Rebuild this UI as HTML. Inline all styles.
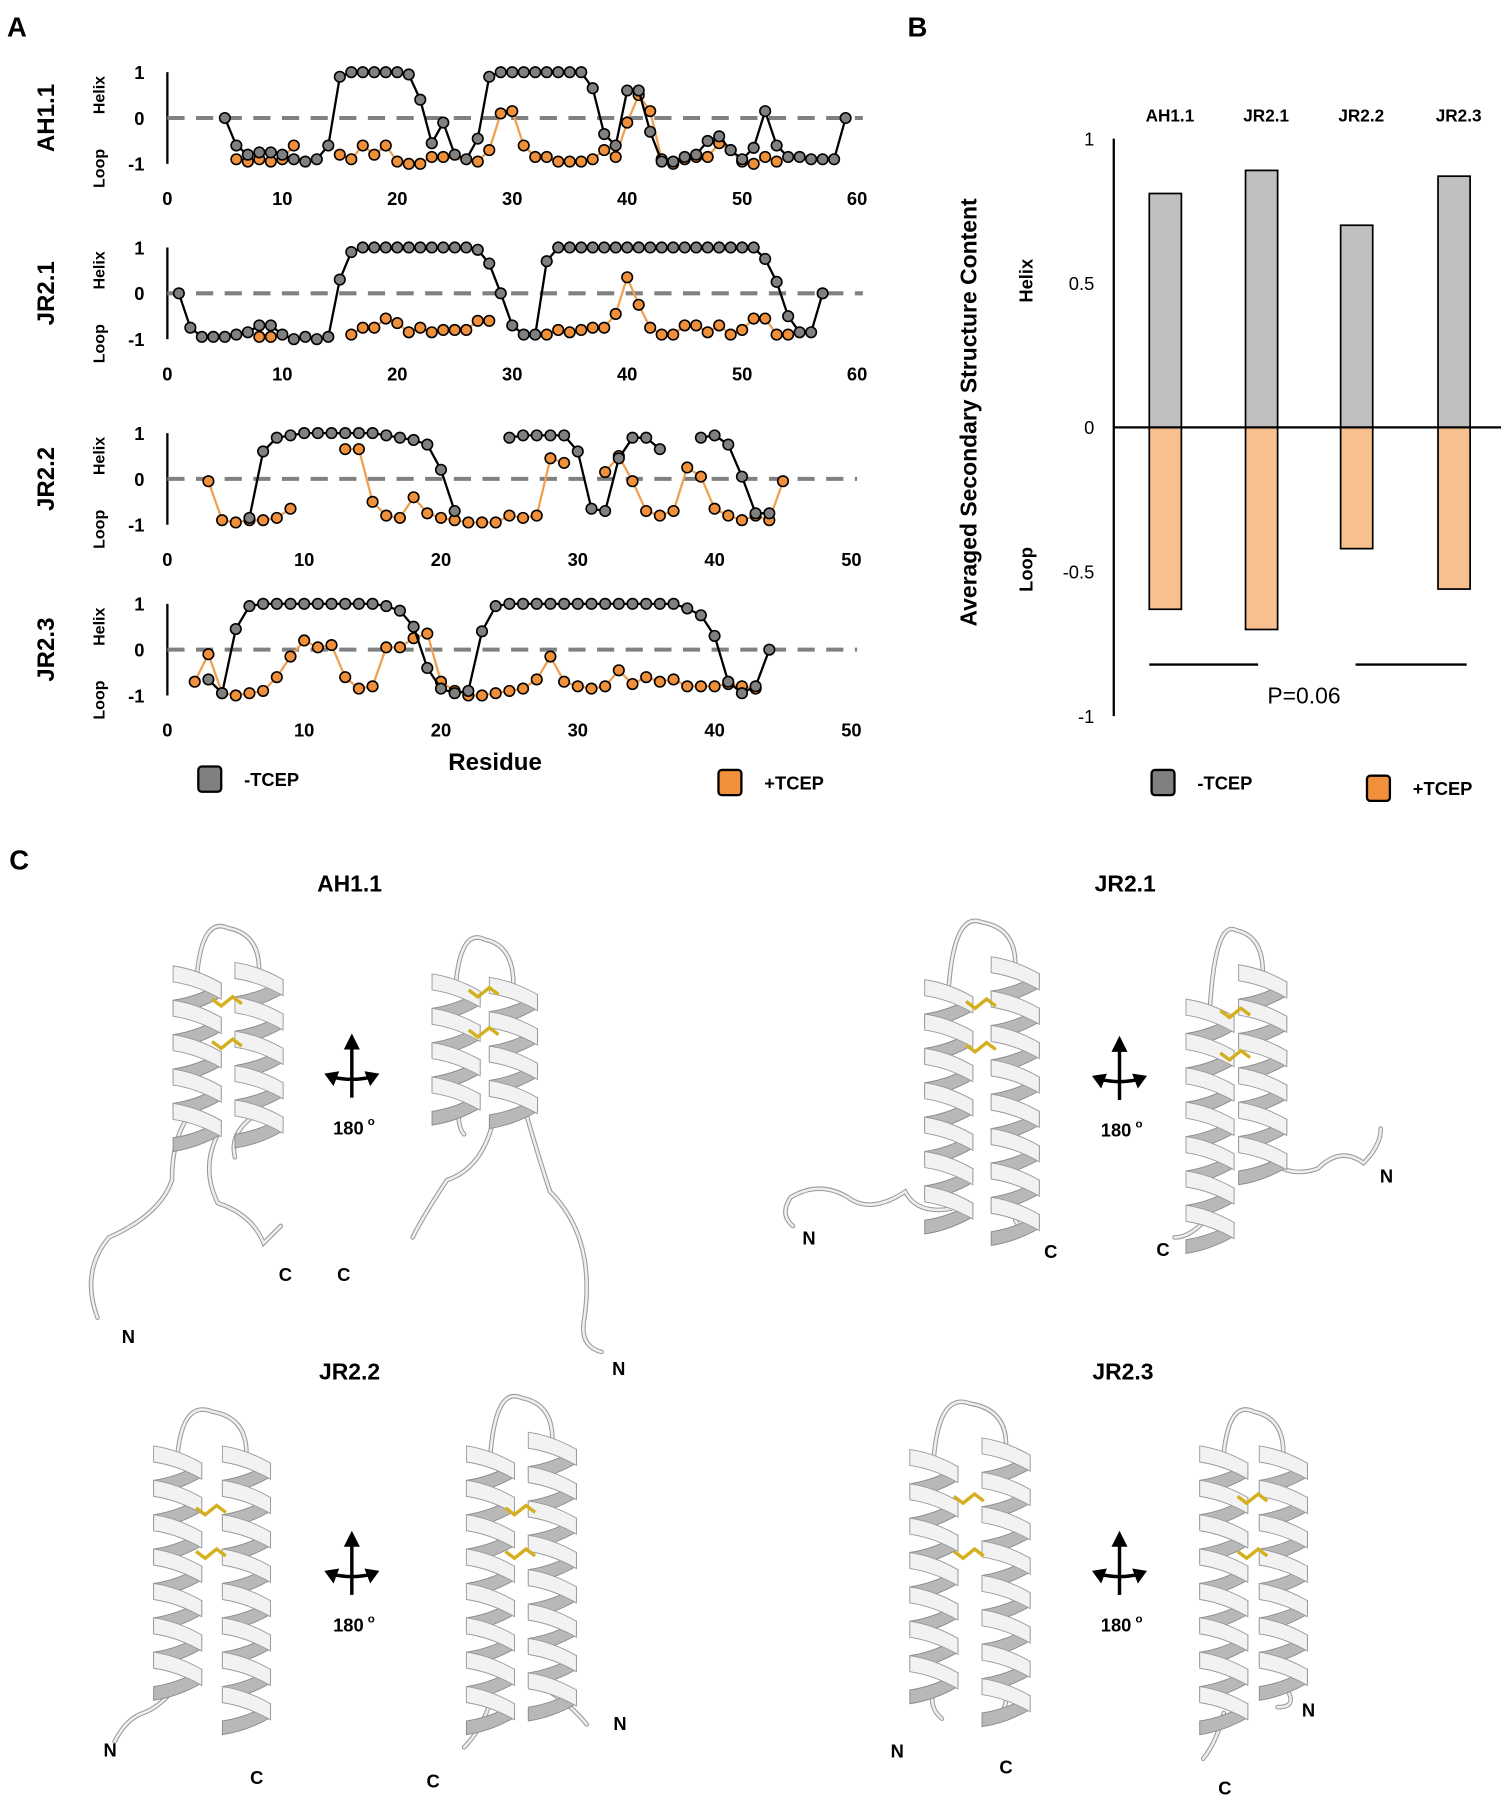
<!DOCTYPE html>
<html><head><meta charset="utf-8">
<style>
html,body{margin:0;padding:0;background:#fff;}
svg{display:block;font-family:"Liberation Sans",sans-serif;}
</style></head>
<body>
<svg id="fig" width="1508" height="1800" viewBox="0 0 1316 1571" xmlns="http://www.w3.org/2000/svg">
<g id="panelA"></g>
<g id="panelB"></g>
<g id="panelC"></g>
</svg>
<script>
// ---------- Panel A data ----------
const ah11Res = [5,6,7,8,9,10,11,12,13,14,15,16,17,18,19,20,21,22,23,24,25,26,27,28,29,30,31,32,33,34,35,36,37,38,39,40,41,42,43,44,45,46,47,48,49,50,51,52,53,54,55,56,57,58,59];
const ah11Minus = [0,-0.6,-0.8,-0.75,-0.75,-0.8,-0.9,-0.95,-0.9,-0.6,0.9,1,1,1,1,1,0.95,0.4,-0.55,-0.1,-0.8,-0.9,-0.45,0.9,1,1,1,1,1,1,1,1,0.65,-0.35,-0.6,0.6,0.6,-0.3,-0.95,-0.95,-0.85,-0.8,-0.5,-0.4,-0.7,-0.9,-0.65,0.15,-0.6,-0.85,-0.85,-0.9,-0.9,-0.9,0];
const ah11PlusRes = [6,7,8,9,10,11,null,15,16,17,18,19,20,21,22,23,24,27,28,29,30,31,32,33,34,35,36,37,38,39,40,41,42,43,44,45,46,47,48,49,50,51,52,53];
const ah11Plus = [-0.9,-0.95,-0.9,-0.95,-0.9,-0.6,null,-0.8,-0.9,-0.6,-0.8,-0.6,-0.95,-1,-1,-0.85,-0.85,-0.95,-0.7,0.1,0.15,-0.6,-0.85,-0.85,-0.95,-0.95,-0.95,-0.9,-0.7,-0.85,-0.1,0.5,0.15,-0.9,-1,-0.9,-0.85,-0.85,-0.55,-0.7,-0.95,-1,-0.85,-0.95];

const jr21Res = [1,2,3,4,5,6,7,8,9,10,11,12,13,14,15,16,17,18,19,20,21,22,23,24,25,26,27,28,29,30,31,32,33,34,35,36,37,38,39,40,41,42,43,44,45,46,47,48,49,50,51,52,53,54,55,56,57];
const jr21Minus = [0,-0.75,-0.95,-0.95,-0.95,-0.9,-0.85,-0.7,-0.7,-0.9,-1,-0.95,-1,-0.95,0.3,0.9,1,1,1,1,1,1,1,1,1,1,0.95,0.65,0,-0.7,-0.9,-0.9,0.7,1,1,1,1,1,1,1,1,1,1,1,1,1,1,1,1,1,1,0.75,0.25,-0.5,-0.85,-0.85,0];
const jr21PlusRes = [8,9,null,16,17,18,19,20,21,22,23,24,25,26,27,28,null,33,34,35,36,37,38,39,40,41,42,43,44,45,46,47,48,49,50,51,52,53,54];
const jr21Plus = [-0.95,-0.95,null,-0.9,-0.75,-0.75,-0.55,-0.65,-0.85,-0.75,-0.85,-0.8,-0.8,-0.8,-0.6,-0.6,null,-0.9,-0.8,-0.85,-0.8,-0.75,-0.75,-0.45,0.35,-0.25,-0.75,-0.9,-0.9,-0.7,-0.7,-0.85,-0.7,-0.9,-0.8,-0.55,-0.55,-0.9,-0.9];

const jr22Res = [6,7,8,9,10,11,12,13,14,15,16,17,18,19,20,21,null,25,26,27,28,29,30,31,32,33,34,35,36,null,39,40,41,42,43,44];
const jr22Minus = [-0.85,0.6,0.9,0.95,1,1,1,1,1,1,0.95,0.9,0.85,0.75,0.2,-0.7,null,0.9,0.95,0.95,0.95,0.95,0.6,-0.65,-0.7,0.45,0.9,0.9,0.65,null,0.9,0.95,0.75,0.05,-0.75,-0.75];
const jr22PlusRes = [3,4,5,6,7,8,9,null,13,14,15,16,17,18,19,20,21,22,23,24,25,26,27,28,29,null,32,33,34,35,36,37,38,39,40,41,42,43,44,45];
const jr22Plus = [-0.05,-0.9,-0.95,-0.9,-0.9,-0.85,-0.65,null,0.65,0.65,-0.5,-0.8,-0.85,-0.4,-0.75,-0.85,-0.9,-0.95,-0.95,-0.95,-0.8,-0.85,-0.8,0.45,0.35,null,0.15,0.5,-0.05,-0.7,-0.8,-0.7,0.25,0.05,-0.65,-0.8,-0.9,-0.8,-0.9,-0.05];

const jr23Res = [3,4,5,6,7,8,9,10,11,12,13,14,15,16,17,18,19,20,21,22,23,24,25,26,27,28,29,30,31,32,33,34,35,36,37,38,39,40,41,42,43,44];
const jr23Minus = [-0.65,-0.95,0.45,0.95,1,1,1,1,1,1,1,1,1,0.95,0.85,0.5,-0.4,-0.85,-0.95,-0.9,0.4,0.95,1,1,1,1,1,1,1,1,1,1,1,1,1,0.9,0.75,0.3,-0.7,-0.95,-0.8,0];
const jr23PlusRes = [2,3,4,5,6,7,8,9,10,11,12,13,14,15,16,17,18,19,20,21,22,23,24,25,26,27,28,29,30,31,32,33,34,35,36,37,38,39,40,41,42,43];
const jr23Plus = [-0.7,-0.1,-0.95,-1,-0.95,-0.9,-0.6,-0.15,0.2,0.05,0.1,-0.6,-0.85,-0.8,0.05,0.05,0.25,0.35,-0.7,-0.9,-1,-1,-0.95,-0.9,-0.85,-0.65,-0.15,-0.7,-0.8,-0.85,-0.8,-0.45,-0.75,-0.6,-0.7,-0.65,-0.8,-0.8,-0.8,-0.75,-0.8,-0.85];

const panelNames = ["AH1.1","JR2.1","JR2.2","JR2.3"];
const xMaxes = [60,60,50,50];
const xTicksA = [[0,10,20,30,40,50,60],[0,10,20,30,40,50,60],[0,10,20,30,40,50],[0,10,20,30,40,50]];

// ---------- Panel B data ----------
const barCats = ["AH1.1","JR2.1","JR2.2","JR2.3"];
const helixVals = [0.81,0.89,0.70,0.87];
const loopVals = [-0.63,-0.70,-0.42,-0.56];
const bTicks = [1,0.5,0,-0.5,-1];
const bTickLabels = ["1","0.5","0","-0.5","-1"];

const NS="http://www.w3.org/2000/svg";
function mk(parent,tag,attrs,text){const e=document.createElementNS(NS,tag);for(const k in attrs)e.setAttribute(k,attrs[k]);if(text!==undefined)e.textContent=text;parent.appendChild(e);return e;}

// ---- Panel A ----
const A=document.getElementById('panelA');
let t=mk(A,'text',{x:6,y:32,'font-size':24,'font-weight':'bold'},'A');


const tops=[63,216,378,527];
const series=[[ah11Res,ah11Minus,ah11PlusRes,ah11Plus],[jr21Res,jr21Minus,jr21PlusRes,jr21Plus],[jr22Res,jr22Minus,jr22PlusRes,jr22Plus],[jr23Res,jr23Minus,jr23PlusRes,jr23Plus]];
panelNames.forEach((nm,i)=>{
  const g=mk(A,'g',{});
  
  
  const x0=146,x1=(i<2?748:743),xm=xMaxes[i];
  const yTop=tops[i],ySpan=80;
  const sx=v=>x0+(x1-x0)*v/xm;
  const sy=v=>yTop+ySpan*(1-v)/2;
  mk(g,'line',{x1:x0,y1:sy(1),x2:x0,y2:sy(-1),stroke:'#000','stroke-width':2});
  const dl=mk(g,'line',{x1:x0,y1:sy(0),x2:x1+5,y2:sy(0),stroke:'#808080','stroke-width':3.5,'stroke-dasharray':'15 10'});
  
  
  [[1,'1'],[0,'0'],[-1,'-1']].forEach(([v,s])=>{mk(g,'text',{x:126,y:sy(v)+6,'font-size':16,'font-weight':'bold','text-anchor':'end'},s);});
  xTicksA[i].forEach(v=>{const tt=mk(g,'text',{x:sx(v),y:yTop+116,'font-size':16,'font-weight':'bold','text-anchor':'middle'},String(v));});
  const nl=mk(g,'text',{x:0,y:0,'font-size':21,'font-weight':'bold','text-anchor':'middle',transform:`translate(47,${sy(0)}) rotate(-90)`},nm);
  
  
  mk(g,'text',{x:0,y:0,'font-size':14,'font-weight':'bold','text-anchor':'middle',transform:`translate(91,${sy(0.5)}) rotate(-90)`},'Helix');
  mk(g,'text',{x:0,y:0,'font-size':14,'font-weight':'bold','text-anchor':'middle',transform:`translate(91,${sy(-1)+4}) rotate(-90)`},'Loop');
  const [r1,v1,r2,v2]=series[i];
  function draw(res,vals,lineCol,fill,name){
    let d='',pen=false;
    res.forEach((r,k)=>{if(r===null||vals[k]===null){pen=false;return;}d+=(pen?'L':'M')+sx(r).toFixed(1)+' '+sy(vals[k]).toFixed(1);pen=true;});
    const p=mk(g,'path',{d:d,fill:'none',stroke:lineCol,'stroke-width':2});
    
    
    res.forEach((r,k)=>{if(r===null||vals[k]===null)return;const c=mk(g,'circle',{cx:sx(r),cy:sy(vals[k]),r:4.6,fill:fill,stroke:'#000','stroke-width':1.4});});
  }
  draw(r2,v2,'#f0a050','#f0903a','plus-tcep');
  draw(r1,v1,'#000','#808080','minus-tcep');
});
t=mk(A,'text',{x:432,y:672,'font-size':21,'font-weight':'bold','text-anchor':'middle'},'Residue');


function legend(par,x,y,fill,label,name){
  const g=mk(par,'g',{});
  
  
  mk(g,'rect',{x:x-10,y:y-11,width:20,height:22,rx:3,fill:fill,stroke:'#000','stroke-width':2});
  mk(g,'text',{x:x+30,y:y+6,'font-size':16,'font-weight':'bold'},label);
}
legend(A,183,680,'#808080','-TCEP','legend-minus-tcep');
legend(A,637,683,'#f0903a','+TCEP','legend-plus-tcep');

// ---- Panel B ----
const B=document.getElementById('panelB');
t=mk(B,'text',{x:792,y:32,'font-size':24,'font-weight':'bold'},'B');


const by=v=>373-v*252;
const barX=[1017,1101,1184,1269];
mk(B,'line',{x1:972,y1:by(1),x2:972,y2:by(-1),stroke:'#000','stroke-width':2});
bTicks.forEach((v,k)=>{const tt=mk(B,'text',{x:955,y:by(v)+6,'font-size':16,'text-anchor':'end'},bTickLabels[k]);});
barCats.forEach((c,k)=>{
  const x=barX[k];
  const r1=mk(B,'rect',{x:x-14,y:by(helixVals[k]),width:28,height:by(0)-by(helixVals[k]),fill:'#c0c0c0',stroke:'#000','stroke-width':1.5});
  
  
  const r2=mk(B,'rect',{x:x-14,y:by(0),width:28,height:by(loopVals[k])-by(0),fill:'#f9c08f',stroke:'#000','stroke-width':1.5});
  
  
  const l=mk(B,'text',{x:x+4,y:106,'font-size':15,'font-weight':'bold','text-anchor':'middle'},c);
  
  
});
mk(B,'line',{x1:972,y1:by(0),x2:1310,y2:by(0),stroke:'#000','stroke-width':2});
t=mk(B,'text',{x:0,y:0,'font-size':20,'font-weight':'bold','text-anchor':'middle',transform:'translate(852,360) rotate(-90)'},'Averaged Secondary Structure Content');


mk(B,'text',{x:0,y:0,'font-size':16,'font-weight':'bold','text-anchor':'middle',transform:'translate(901,245) rotate(-90)'},'Helix');
mk(B,'text',{x:0,y:0,'font-size':16,'font-weight':'bold','text-anchor':'middle',transform:'translate(901,497) rotate(-90)'},'Loop');
mk(B,'line',{x1:1003,y1:580,x2:1098,y2:580,stroke:'#000','stroke-width':2});
mk(B,'line',{x1:1183,y1:580,x2:1280,y2:580,stroke:'#000','stroke-width':2});
t=mk(B,'text',{x:1138,y:614,'font-size':20,'text-anchor':'middle'},'P=0.06');


legend(B,1015,683,'#808080','-TCEP','legend-minus-tcep-b');
legend(B,1203,688,'#f0903a','+TCEP','legend-plus-tcep-b');

// ---- Panel C ----
const C=document.getElementById('panelC');
t=mk(C,'text',{x:8,y:759,'font-size':24,'font-weight':'bold'},'C');


function helix(g,x,y0,y1){
  const w=42,p=30;
  for(let y=y0;y<y1-10;y+=p){
    mk(g,'path',{d:`M${x+w/2} ${y+p*0.5} Q${x} ${y+p*0.9} ${x-w/2} ${y+p} L${x-w/2} ${y+p+12} Q${x} ${y+p*0.9+12} ${x+w/2} ${y+p*0.5+12}Z`,fill:'#b8b8b8',stroke:'#8a8a8a','stroke-width':0.8});
    mk(g,'path',{d:`M${x-w/2} ${y} Q${x} ${y+3} ${x+w/2} ${y+p*0.5} L${x+w/2} ${y+p*0.5+14} Q${x} ${y+17} ${x-w/2} ${y+14}Z`,fill:'#f2f2f2',stroke:'#9a9a9a','stroke-width':0.8});
  }
}
function coil(g,d){mk(g,'path',{d:d,fill:'none',stroke:'#999','stroke-width':4,'stroke-linecap':'round'});mk(g,'path',{d:d,fill:'none',stroke:'#eee','stroke-width':2.2,'stroke-linecap':'round'});}
function ss(g,x,y){mk(g,'path',{d:`M${x-14} ${y-6} l8 6 l10 -8 l8 6`,fill:'none',stroke:'#d4b020','stroke-width':3});}
function rotIcon(x,y){
  const g=mk(C,'g',{});
  
  
  mk(g,'line',{x1:x,y1:y+48,x2:x,y2:y,stroke:'#000','stroke-width':3});
  mk(g,'path',{d:`M${x-7} ${y+6} L${x} ${y-8} L${x+7} ${y+6}Z`,fill:'#000'});
  mk(g,'path',{d:`M${x-17} ${y+30} Q${x} ${y+34} ${x+17} ${y+30}`,fill:'none',stroke:'#000','stroke-width':3});
  mk(g,'path',{d:`M${x-24} ${y+27} L${x-11} ${y+25} L${x-16} ${y+38}Z`,fill:'#000'});
  mk(g,'path',{d:`M${x+24} ${y+27} L${x+11} ${y+25} L${x+16} ${y+38}Z`,fill:'#000'});
  mk(g,'text',{x:x-3,y:y+80,'font-size':16,'font-weight':'bold','text-anchor':'middle'},'180');
  mk(g,'text',{x:x+17,y:y+72,'font-size':10,'font-weight':'bold','text-anchor':'middle'},'o');
}
function label(x,y,s,sz,name){const e=mk(C,'text',{x:x,y:y,'font-size':sz,'font-weight':'bold','text-anchor':'middle'},s);}
function struct(name,hx1,hy1a,hy1b,hx2,hy2a,hy2b,tails,ssy){
  const g=mk(C,'g',{});
  
  
  const top=Math.min(hy1a,hy2a);
  coil(g,`M${hx1} ${hy1a+6} Q${hx1+5} ${top-40} ${(hx1+hx2)/2} ${top-30} Q${hx2} ${top-25} ${hx2} ${hy2a+6}`);
  tails.forEach(d=>coil(g,d));
  helix(g,hx1,hy1a,hy1b);
  helix(g,hx2,hy2a,hy2b);
  ssy.forEach(y=>ss(g,(hx1+hx2)/2,y));
}
label(305,778,'AH1.1',20,'title-ah1-1');
label(982,778,'JR2.1',20,'title-jr2-1');
label(305,1204,'JR2.2',20,'title-jr2-2');
label(980,1204,'JR2.3',20,'title-jr2-3');
struct('structure-ah1-1-front',172,843,975,226,840,980,
 ['M168 970 Q150 990 150 1030 Q140 1060 95 1080 Q70 1110 85 1150','M190 990 Q175 1020 190 1050 Q220 1060 230 1085 Q240 1075 245 1070','M220 975 Q200 990 205 1010'],[878,915]);
struct('structure-ah1-1-back',398,850,975,448,853,970,
 ['M460 975 Q470 1010 480 1040 Q520 1080 510 1150 Q505 1175 525 1180','M430 980 Q420 1020 390 1030 Q370 1060 360 1080','M400 970 Q400 985 405 990'],[870,905]);
rotIcon(307,910);
label(249,1118,'C',16,'c-terminus');label(300,1118,'C',16,'c-terminus');label(112,1172,'N',16,'n-terminus');label(540,1200,'N',16,'n-terminus');
struct('structure-jr2-1-front',828,855,1060,886,835,1065,
 ['M830 1055 Q800 1060 790 1040 Q760 1060 740 1045 Q715 1030 690 1045 Q680 1060 692 1070','M886 1065 Q895 1080 905 1070'],[880,918]);
struct('structure-jr2-1-back',1056,872,1065,1102,842,1010,
 ['M1056 1060 Q1040 1080 1025 1080','M1102 1005 Q1120 1030 1150 1020 Q1170 1000 1190 1015 Q1205 1000 1205 985'],[888,925]);
rotIcon(977,912);
label(706,1086,'N',16,'n-terminus');label(917,1098,'C',16,'c-terminus');label(1015,1096,'C',16,'c-terminus');label(1210,1032,'N',16,'n-terminus');
struct('structure-jr2-2-front',155,1262,1475,215,1262,1505,
 ['M155 1470 Q140 1490 125 1495 Q110 1500 100 1520'],[1322,1360]);
struct('structure-jr2-2-back',428,1262,1490,482,1250,1480,
 ['M428 1485 Q420 1510 405 1525','M482 1478 Q500 1490 512 1505'],[1322,1360]);
rotIcon(307,1344);
label(96,1533,'N',16,'n-terminus');label(224,1557,'C',16,'c-terminus');label(378,1560,'C',16,'c-terminus');label(541,1510,'N',16,'n-terminus');
struct('structure-jr2-3-front',815,1265,1480,878,1255,1480,
 ['M815 1475 Q810 1490 822 1500','M878 1475 Q880 1490 870 1500'],[1312,1360]);
struct('structure-jr2-3-back',1068,1262,1500,1120,1262,1475,
 ['M1068 1495 Q1062 1520 1050 1535','M1120 1470 Q1135 1490 1115 1490'],[1312,1360]);
rotIcon(977,1344);
label(783,1534,'N',16,'n-terminus');label(878,1548,'C',16,'c-terminus');label(1069,1566,'C',16,'c-terminus');label(1142,1498,'N',16,'n-terminus');
</script>
</body></html>
